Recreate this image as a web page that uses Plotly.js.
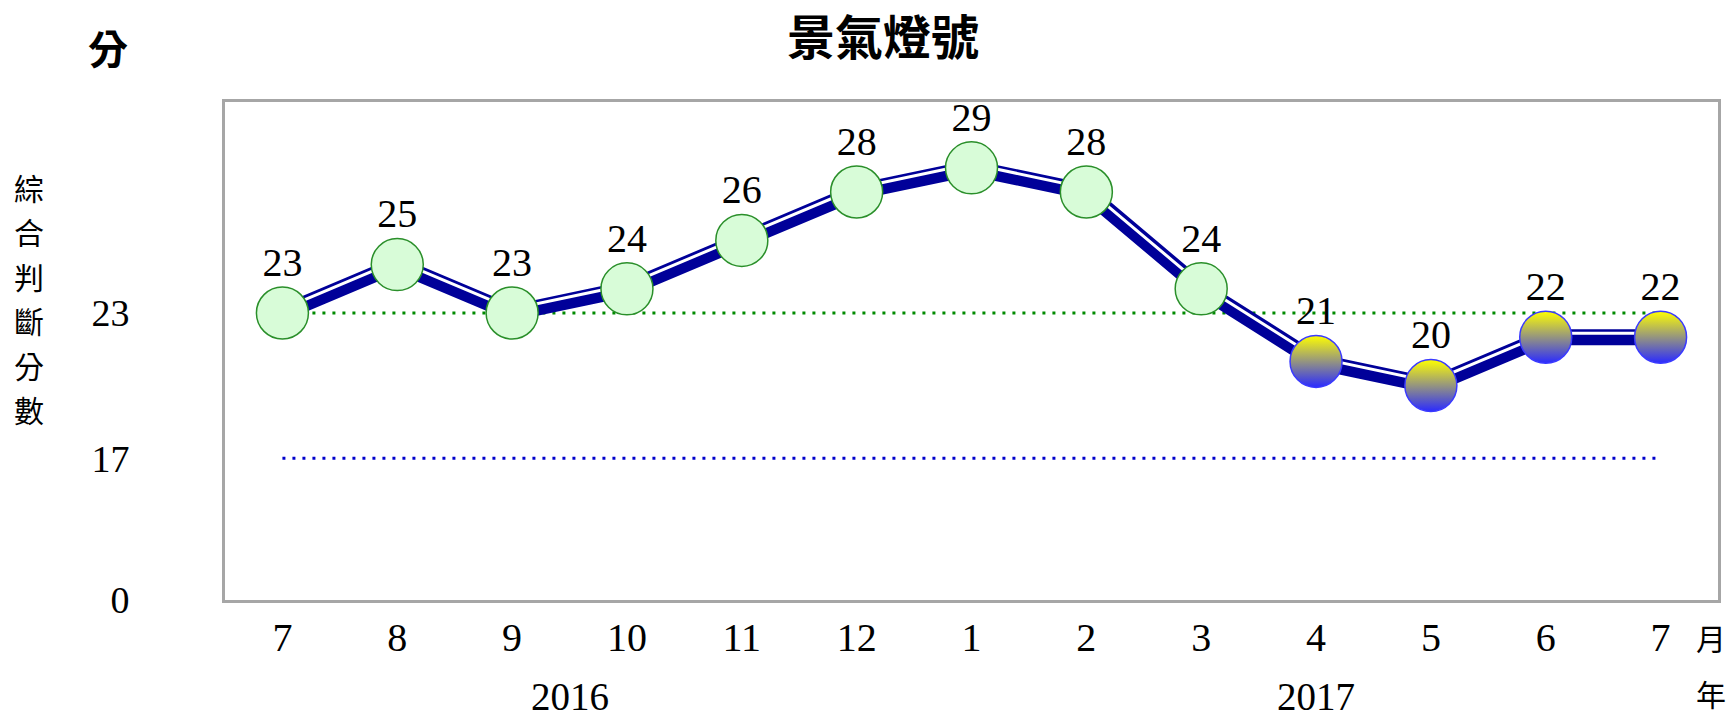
<!DOCTYPE html>
<html><head><meta charset="utf-8">
<script src="https://cdn.plot.ly/plotly-3.0.1.min.js"></script>
<style>html,body{margin:0;padding:0;background:#fff}</style>
</head><body><div id="chart" style="width:1736px;height:717px"></div>
<script>
// ---- data ----
const months = ['7','8','9','10','11','12','1','2','3','4','5','6','7'];
const years  = ['2016','2016','2016','2016','2016','2016','2017','2017','2017','2017','2017','2017','2017'];
const scores = [23,25,23,24,26,28,29,28,24,21,20,22,22];
const greenThreshold = 23;   // 綠燈下限
const blueThreshold = 17;    // 藍燈上限
const yTickLabels = ['0','17','23'];

// ---- layout constants ----
const W = 1736, H = 717;
const M = {l:225, r:18, t:102, b:117};
const plotW = W - M.l - M.r, plotH = H - M.t - M.b;
const yRange = [11.14, 31.72];
const pxPerUnit = plotH / (yRange[1] - yRange[0]);
const whiteShift = 4 / pxPerUnit;
const px2x = p => (p - M.l) / plotW;
const py2y = p => (H - M.b - p) / plotH;

const serif = 'Times New Roman, Liberation Serif, serif';
const cjk = 'Noto Sans CJK TC, Noto Sans CJK SC, sans-serif';

const xs = scores.map((_, i) => i);
const xFirst = xs[0], xLast = xs[xs.length - 1];

const isGreen = scores.map(s => s >= greenThreshold);
const markerFill = isGreen.map(g => g ? '#d8fcd8' : '#ffff00');
const markerGradType = isGreen.map(g => g ? 'none' : 'vertical');
const markerGradColor = isGreen.map(g => g ? '#d8fcd8' : '#2a2aff');
const markerLine = isGreen.map(g => g ? '#2a8f2a' : '#3a3aff');

const dotted = '3px,7px';
const traces = [
  {x:[xFirst, xLast], y:[greenThreshold, greenThreshold], mode:'lines', yaxis:'y',
   line:{color:'#008a00', width:3, dash:dotted}, hoverinfo:'skip'},
  {x:[xFirst, xLast], y:[blueThreshold, blueThreshold], mode:'lines', yaxis:'y',
   line:{color:'#0000cc', width:3, dash:dotted}, hoverinfo:'skip'},
  {x:xs, y:scores, mode:'lines', yaxis:'y', line:{color:'#000099', width:16}, cliponaxis:false},
  {x:xs, y:scores, mode:'lines', yaxis:'y2', line:{color:'#ffffff', width:3}, cliponaxis:false},
  {x:xs, y:scores, mode:'markers', yaxis:'y3', cliponaxis:false,
   marker:{size:52, color:markerFill, line:{color:markerLine, width:1.5},
           gradient:{type:markerGradType, color:markerGradColor}}},
  {x:xs, y:scores, mode:'markers+text', yaxis:'y3', cliponaxis:false,
   text:scores.map(String), textposition:'top center',
   textfont:{family:serif, size:40, color:'#000'},
   marker:{size:42, opacity:0}}
];

// year group labels centred under their months
const yearAnn = [];
[...new Set(years)].forEach(yr => {
  const idx = xs.filter(i => years[i] === yr);
  const c = (idx[0] + idx[idx.length - 1]) / 2;
  yearAnn.push({x:c, xref:'x', y:py2y(696), yref:'paper', text:yr, showarrow:false,
    font:{family:serif, size:39, color:'#000'}, xanchor:'center', yanchor:'middle'});
});

const vTitle = ['綜','合','判','斷','分','數'];
const vAnn = vTitle.map((ch, i) => ({x:px2x(29), xref:'paper', y:py2y(187 + i*44.4), yref:'paper',
  text:ch, showarrow:false, font:{family:cjk, size:30, color:'#000'}, xanchor:'center', yanchor:'middle'}));

const layout = {
  width:W, height:H, margin:{l:M.l, r:M.r, t:M.t, b:M.b, pad:0},
  paper_bgcolor:'#fff', plot_bgcolor:'#fff', showlegend:false,
  title:{text:'<b>景氣燈號</b>', x:883/W, xanchor:'center', y:1 - 38/H, yanchor:'middle',
         font:{family:cjk, size:48, color:'#000'}},
  xaxis:{range:[-0.5, xs.length - 0.5], tickvals:xs, ticktext:months, showgrid:false, zeroline:false,
         showline:true, mirror:true, linecolor:'#a6a6a6', linewidth:3, layer:'below traces',
         ticks:'', tickfont:{family:serif, size:40, color:'#000'}},
  yaxis:{range:yRange, tickvals:[yRange[0], blueThreshold, greenThreshold], ticktext:yTickLabels,
         showgrid:false, zeroline:false, showline:true, mirror:true, linecolor:'#a6a6a6', linewidth:3,
         layer:'below traces', ticks:'outside', ticklen:85, tickcolor:'rgba(0,0,0,0)',
         tickfont:{family:serif, size:38, color:'#000'}},
  yaxis2:{range:[yRange[0] - whiteShift, yRange[1] - whiteShift], overlaying:'y', visible:false},
  yaxis3:{range:yRange, overlaying:'y', visible:false},
  annotations:[
    {x:px2x(108), xref:'paper', y:py2y(47), yref:'paper', text:'<b>分</b>', showarrow:false,
     font:{family:cjk, size:40, color:'#000'}, xanchor:'center', yanchor:'middle'},
    {x:px2x(1711), xref:'paper', y:py2y(637), yref:'paper', text:'月', showarrow:false,
     font:{family:cjk, size:30, color:'#000'}, xanchor:'center', yanchor:'middle'},
    {x:px2x(1711), xref:'paper', y:py2y(693), yref:'paper', text:'年', showarrow:false,
     font:{family:cjk, size:30, color:'#000'}, xanchor:'center', yanchor:'middle'},
    ...yearAnn, ...vAnn
  ]
};

Plotly.newPlot('chart', traces, layout, {staticPlot:true, displayModeBar:false});
</script></body></html>
